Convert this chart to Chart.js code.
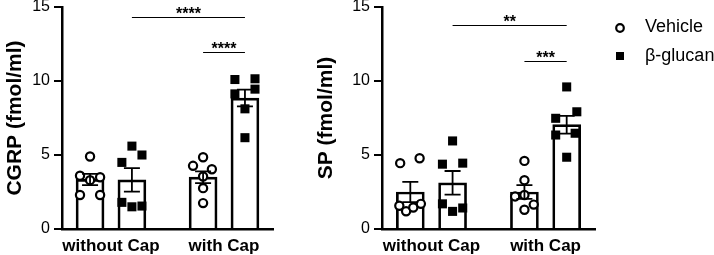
<!DOCTYPE html>
<html>
<head>
<meta charset="utf-8">
<script src="https://cdn.jsdelivr.net/npm/chart.js@4"></script>
<style>
  body { margin: 0; background: #fff; }
  canvas { position: absolute; top: 0; }
  #cgrp { left: 0; }
  #sp { left: 305px; }
</style>
</head>
<body>
<canvas id="cgrp" width="305" height="255"></canvas>
<canvas id="sp" width="409" height="255"></canvas>
<script>
// groups on the x axis
const groups = ['without Cap', 'with Cap'];
const groupTicks = [1.5, 4.2];
// bar order: Vehicle w/o, β-glucan w/o, Vehicle with, β-glucan with
const barX = [1, 2, 3.7, 4.7];
const series = ['Vehicle', 'β-glucan'];

// CGRP (fmol/ml)
const cgrpMean = [3.35, 3.32, 3.5, 8.85];
const cgrpSem = [0.38, 0.79, 0.4, 0.57];
const cgrpPts = [
  [4.9, 3.6, 3.5, 3.3, 2.3, 2.3],
  [5.6, 5.0, 4.5, 1.8, 1.5, 1.55],
  [4.85, 4.27, 4.04, 3.55, 2.76, 1.75],
  [10.1, 10.15, 9.45, 9.13, 8.12, 6.17]
];
const cgrpJitter = [
  [0, -0.24, 0.24, 0, -0.24, 0.24],
  [0, 0.24, -0.24, -0.24, 0, 0.24],
  [0, -0.24, 0.21, 0, 0, 0],
  [-0.24, 0.24, 0.24, -0.24, 0, 0]
];
const cgrpSigFrom = [2, 3.7];
const cgrpSigTo = [4.7, 4.7];
const cgrpSigY = [14.3, 11.93];
const cgrpSigText = ['****', '****'];

// SP (fmol/ml)
const spMean = [2.5, 3.12, 2.5, 7.05];
const spSem = [0.68, 0.8, 0.47, 0.6];
const spPts = [
  [4.45, 4.78, 1.57, 1.2, 1.45, 1.7],
  [5.95, 4.38, 4.45, 1.7, 1.19, 1.42],
  [4.6, 3.3, 2.2, 2.3, 1.65, 1.3],
  [9.6, 7.92, 7.48, 6.35, 6.47, 4.85]
];
const spJitter = [
  [-0.24, 0.22, -0.26, -0.1, 0.07, 0.25],
  [0, -0.24, 0.24, -0.24, 0, 0.24],
  [0, 0, -0.22, 0, 0.22, 0],
  [0, 0.24, -0.26, -0.26, 0.2, 0]
];
const spSigFrom = [2, 3.7];
const spSigTo = [4.7, 4.7];
const spSigY = [13.77, 11.34];
const spSigText = ['**', '***'];

const yTicks = [0, 5, 10, 15];

Chart.defaults.font.family = '"Liberation Sans", Arial, sans-serif';
Chart.defaults.color = '#000';

function pts(vals, x0, jit) {
  return vals.map((v, i) => ({ x: x0 + jit[i], y: v }));
}

function extrasPlugin(mean, sem, sigFrom, sigTo, sigY, sigText, withLegend) {
  return {
    id: 'extras',
    afterDatasetsDraw(chart) {
      const { ctx, scales: { x, y } } = chart;
      ctx.save();
      ctx.strokeStyle = '#000';
      ctx.lineWidth = 1.8;
      mean.forEach((m, i) => {
        const px = x.getPixelForValue(barX[i]);
        const top = y.getPixelForValue(m + sem[i]);
        const bot = y.getPixelForValue(m - sem[i]);
        ctx.beginPath();
        ctx.moveTo(px, top); ctx.lineTo(px, bot);
        ctx.moveTo(px - 8, top); ctx.lineTo(px + 8, top);
        ctx.moveTo(px - 8, bot); ctx.lineTo(px + 8, bot);
        ctx.stroke();
      });
      ctx.restore();
    },
    afterDraw(chart) {
      const { ctx, scales: { x, y } } = chart;
      ctx.save();
      ctx.strokeStyle = '#000';
      ctx.fillStyle = '#000';
      ctx.lineWidth = 1.2;
      ctx.font = 'bold 16px "Liberation Sans", Arial, sans-serif';
      ctx.textAlign = 'center';
      ctx.textBaseline = 'alphabetic';
      sigY.forEach((v, i) => {
        const x1 = x.getPixelForValue(sigFrom[i]);
        const x2 = x.getPixelForValue(sigTo[i]);
        const py = Math.round(y.getPixelForValue(v)) + 0.5;
        ctx.beginPath();
        ctx.moveTo(x1, py); ctx.lineTo(x2, py);
        ctx.stroke();
        ctx.fillText(sigText[i], (x1 + x2) / 2, py + 1);
      });
      if (withLegend) {
        const lx = x.right + 25;
        ctx.font = '18px "Liberation Sans", Arial, sans-serif';
        ctx.textAlign = 'left';
        ctx.textBaseline = 'middle';
        // Vehicle marker
        ctx.lineWidth = 2.2;
        ctx.beginPath();
        ctx.arc(lx, 28, 3.8, 0, Math.PI * 2);
        ctx.fillStyle = '#fff';
        ctx.fill();
        ctx.stroke();
        ctx.fillStyle = '#000';
        ctx.fillText(series[0], lx + 25, 27);
        // β-glucan marker
        ctx.fillRect(lx - 4, 52, 8, 8);
        ctx.fillText(series[1], lx + 25, 56);
      }
      ctx.restore();
    }
  };
}

function makeChart(id, title, mean, sem, data, jitter, sig, yWidth, titlePad, rightPad, withLegend) {
  const barData = barX.map((bx, i) => ({ x: bx, y: mean[i] }));
  new Chart(document.getElementById(id), {
    type: 'bar',
    data: {
      datasets: [
        {
          type: 'scatter',
          label: series[0],
          data: pts(data[0], barX[0], jitter[0]).concat(pts(data[2], barX[2], jitter[2])),
          pointStyle: 'circle',
          pointRadius: 4.1,
          pointBorderWidth: 2.2,
          pointBackgroundColor: '#fff',
          pointBorderColor: '#000',
          order: 1
        },
        {
          type: 'scatter',
          label: series[1],
          data: pts(data[1], barX[1], jitter[1]).concat(pts(data[3], barX[3], jitter[3])),
          pointStyle: 'rect',
          pointRadius: 6.4,
          pointBorderWidth: 0,
          pointBackgroundColor: '#000',
          pointBorderColor: '#000',
          order: 1
        },
        {
          label: 'mean',
          data: barData,
          backgroundColor: '#fff',
          borderColor: '#000',
          borderWidth: 2.7,
          barThickness: 28,
          grouped: false,
          order: 2
        }
      ]
    },
    options: {
      responsive: false,
      animation: false,
      events: [],
      layout: { padding: { top: 7, left: 0, right: rightPad, bottom: 0 } },
      plugins: { legend: { display: false }, tooltip: { enabled: false } },
      scales: {
        x: {
          type: 'linear',
          min: 0.33,
          max: 5.37,
          offset: false,
          grid: { display: false, drawTicks: false },
          border: { display: true, width: 2.5, color: '#000' },
          afterBuildTicks: (s) => { s.ticks = groupTicks.map(v => ({ value: v })); },
          afterFit: (s) => { s.height = 26; s.paddingLeft = 0; s.paddingRight = 0; },
          ticks: {
            autoSkip: false,
            maxRotation: 0,
            padding: 7,
            font: { size: 17, weight: 'bold' },
            callback: (v) => groups[groupTicks.indexOf(v)]
          }
        },
        y: {
          min: 0,
          max: 15,
          afterBuildTicks: (s) => { s.ticks = yTicks.map(v => ({ value: v })); },
          afterFit: (s) => { s.width = yWidth; s.paddingTop = 0; s.paddingBottom = 0; },
          grid: { display: true, drawOnChartArea: false, drawTicks: true, tickLength: 8, lineWidth: 2, color: '#000' },
          border: { display: true, width: 2.5, color: '#000' },
          ticks: { padding: 4, font: { size: 16 } },
          title: {
            display: true,
            text: title,
            font: { size: 21, weight: 'bold' },
            padding: { top: titlePad, bottom: 0 }
          }
        }
      }
    },
    plugins: [extrasPlugin(mean, sem, sig[0], sig[1], sig[2], sig[3], withLegend)]
  });
}

makeChart('cgrp', 'CGRP (fmol/ml)', cgrpMean, cgrpSem, cgrpPts, cgrpJitter,
  [cgrpSigFrom, cgrpSigTo, cgrpSigY, cgrpSigText], 62, 3, 32, false);
makeChart('sp', 'SP (fmol/ml)', spMean, spSem, spPts, spJitter,
  [spSigFrom, spSigTo, spSigY, spSigText], 77, 9, 119, true);
</script>
</body>
</html>
